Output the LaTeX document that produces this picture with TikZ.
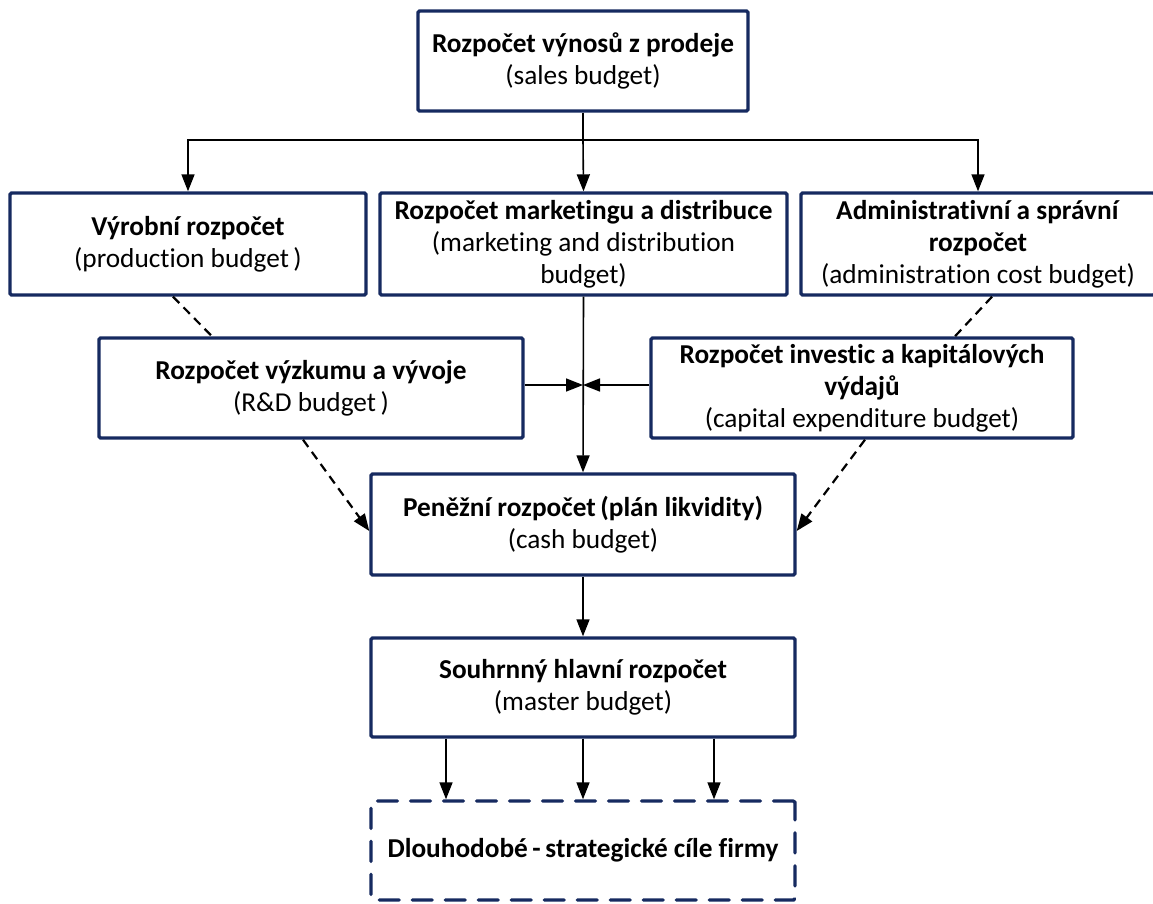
\documentclass[tikz,border=0pt]{standalone}
\usepackage{fontspec}
\setmainfont{Carlito}[Ligatures=NoCommon]
\usetikzlibrary{arrows.meta}
\definecolor{navy}{RGB}{22,42,96}
\begin{document}
\begin{tikzpicture}[x=1pt,y=-1pt,
  box/.style={draw=navy, line width=3.4pt, rounded corners=1.5pt, fill=white, inner sep=0pt,
    align=center, font=\fontsize{27.3}{32}\selectfont},
  conn/.style={draw=black, line width=1.6pt, -{Triangle[length=17pt,width=13pt]}},
  plainline/.style={draw=black, line width=1.6pt},
  dashconn/.style={draw=black, line width=2.2pt, dash pattern=on 9pt off 6pt, -{Triangle[length=17pt,width=13pt]}},
  dashline/.style={draw=black, line width=2.2pt, dash pattern=on 9pt off 6pt},
]
\path[use as bounding box] (0,0) rectangle (1153,903);
\clip (0,0) rectangle (1153,903);
\fill[white] (0,0) rectangle (1153,903);

\node[box, minimum width=330pt, minimum height=100pt] (sales) at (583,61)
  {\textbf{Rozpočet výnosů z prodeje}\\(sales budget)};
\node[box, minimum width=356pt, minimum height=102pt] (vyr) at (188,244)
  {\textbf{Výrobní rozpočet}\\(production budget\,)};
\node[box, minimum width=407pt, minimum height=102pt] (mkt) at (583.5,244)
  {\textbf{Rozpočet marketingu a distribuce}\\(marketing and distribution\\budget)};
\node[box, minimum width=354pt, minimum height=102pt] (adm) at (978,244)
  {\textbf{Administrativní a správní}\\\textbf{rozpočet}\\(administration cost budget)};
\node[box, minimum width=424pt, minimum height=100pt] (rd) at (311,388)
  {\textbf{Rozpočet výzkumu a vývoje}\\(R\&D budget\,)};
\node[box, minimum width=422pt, minimum height=100pt] (inv) at (862,388)
  {\textbf{Rozpočet investic a kapitálových}\\\textbf{výdajů}\\(capital expenditure budget)};
\node[box, minimum width=424pt, minimum height=101pt] (cash) at (583,524.5)
  {\textbf{Peněžní rozpočet\,(plán likvidity)}\\(cash budget)};
\node[box, minimum width=424pt, minimum height=99pt] (master) at (583,687.5)
  {\textbf{Souhrnný hlavní rozpočet}\\(master budget)};
\node[box, dash pattern=on 20pt off 13pt, line cap=round, minimum width=424pt, minimum height=99pt] (goal) at (583,850.5)
  {\textbf{Dlouhodobé\,-\,strategické cíle firmy}};

% sales distribution
\coordinate (j) at (583,140);
\draw[plainline] (sales.south) -- (j);
\draw[conn] (j) -- (mkt.north);
\draw[conn] (j) -| (vyr.north);
\draw[conn] (j) -| (adm.north);

% central trunk
\coordinate (m) at (583,385);
\draw[conn] (mkt.south) -- (cash.north);
\draw[conn] (rd.east |- m) -- (m);
\draw[conn] (inv.west |- m) -- (m);

% dashed links
\draw[dashline] ([xshift=-15pt]vyr.south) -- ([xshift=-99pt]rd.north);
\draw[dashline] ([xshift=14pt]adm.south) -- ([xshift=93pt]inv.north);
\draw[dashconn] ([xshift=-8pt]rd.south) -- ([yshift=-6.5pt]cash.west);
\draw[dashconn] ([xshift=3pt]inv.south) -- ([yshift=-6.5pt]cash.east);

% lower chain
\draw[conn] (cash.south) -- (master.north);
\draw[conn] ([xshift=-137pt]master.south) -- ([xshift=-137pt]goal.north);
\draw[conn] (master.south) -- (goal.north);
\draw[conn] ([xshift=131pt]master.south) -- ([xshift=131pt]goal.north);
\end{tikzpicture}
\end{document}
